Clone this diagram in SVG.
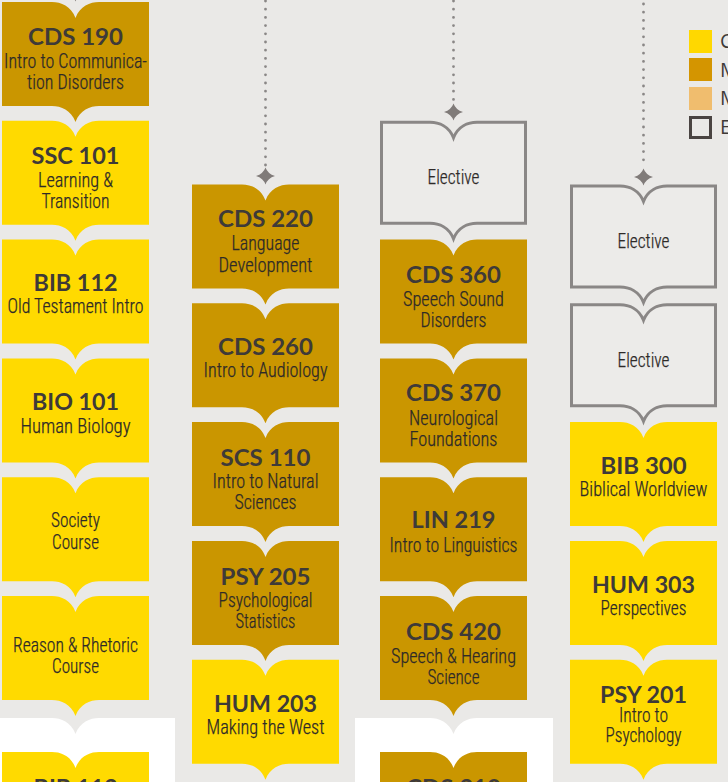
<svg xmlns="http://www.w3.org/2000/svg" xmlns:xlink="http://www.w3.org/1999/xlink" width="728" height="782" viewBox="0 0 728 782">
<style>
.bg{fill:#EAE9E7}
.yl{fill:#FFDA00}
.gd{fill:#CA9600}
.ol{fill:#ECEBE9;stroke:#8A8786;stroke-width:3}
.t{font-family:"Lato","Liberation Sans",sans-serif;font-weight:700;font-size:23px;fill:#3E3A38;text-anchor:middle}
.s{font-family:"Roboto Condensed","Roboto","Liberation Sans",sans-serif;font-weight:300;font-size:19.5px;fill:#2E2A28;stroke:#2E2A28;stroke-width:0.25;text-anchor:middle}
.dot{stroke:#8A8786;stroke-width:2.8;stroke-linecap:round;stroke-dasharray:0 8.2;fill:none}
.star{fill:#807B79}
.lg{font-family:"Open Sans","Liberation Sans",sans-serif;font-size:20px;fill:#3E3A38}
</style>
<defs>
<path id="book" d="M0 0 H50 C59 0 69 4 73.5 16 C78 4 88 0 97 0 H147 V104 H97 C88 104 78 108 73.5 120 C69 108 59 104 50 104 H0 Z"/>
<path id="bookO" d="M1.5 1.5 H50 C59 1.5 69 5.5 73.5 17 C78 5.5 88 1.5 97 1.5 H145.5 V102.5 H97 C88 102.5 78 106.5 73.5 118 C69 106.5 59 102.5 50 102.5 H1.5 Z"/>
<path id="star" d="M0 -8.5 Q2.2 -2.2 9.5 0 Q2.2 2.2 0 8.5 Q-2.2 2.2 -9.5 0 Q-2.2 -2.2 0 -8.5 Z"/>
</defs>
<rect class="bg" x="0" y="0" width="728" height="782"/>
<g id="white-areas">
<path fill="#FFFFFF" d="M0 718 H52 C61 718 71 722 75.5 734 C80 722 90 718 99 718 H175 V782 H0 Z"/>
<path fill="#FFFFFF" d="M355 718 H430 C439 718 449 722 453.5 734 C458 722 468 718 477 718 H553 V782 H355 Z"/>
</g>
<g id="connectors">
<line class="dot" x1="265.5" y1="1" x2="265.5" y2="166"/>
<use href="#star" class="star" x="265.5" y="176"/>
<line class="dot" x1="453.5" y1="1" x2="453.5" y2="102"/>
<use href="#star" class="star" x="453.5" y="112"/>
<line class="dot" x1="643.5" y1="4" x2="643.5" y2="167"/>
<use href="#star" class="star" x="643.5" y="177"/>
<use href="#star" class="star" x="75.5" y="-7"/>
</g>
<g id="legend">
<rect x="689" y="30" width="23" height="23" fill="#FFD800"/>
<rect x="689" y="58" width="23" height="23" fill="#D49500"/>
<rect x="689" y="87" width="23" height="23" fill="#F0BD6E"/>
<rect x="690.5" y="117.5" width="20" height="20" fill="none" stroke="#4A4442" stroke-width="3"/>
<text class="lg" x="720" y="48">C</text>
<text class="lg" x="720" y="77">M</text>
<text class="lg" x="720" y="105">M</text>
<text class="lg" x="720" y="134">E</text>
</g>
<!-- Column 1 -->
<g id="cds190"><use href="#book" class="gd" x="2" y="2"/>
<text class="t" x="75.5" y="45" textLength="95" lengthAdjust="spacingAndGlyphs">CDS 190</text>
<text class="s" x="75.5" y="68" textLength="143" lengthAdjust="spacingAndGlyphs">Intro to Communica-</text>
<text class="s" x="75.5" y="89" textLength="97" lengthAdjust="spacingAndGlyphs">tion Disorders</text></g>
<g id="ssc101"><use href="#book" class="yl" x="2" y="120.8"/>
<text class="t" x="75.5" y="164" textLength="88" lengthAdjust="spacingAndGlyphs">SSC 101</text>
<text class="s" x="75.5" y="187" textLength="75" lengthAdjust="spacingAndGlyphs">Learning &amp;</text>
<text class="s" x="75.5" y="208" textLength="68" lengthAdjust="spacingAndGlyphs">Transition</text></g>
<g id="bib112"><use href="#book" class="yl" x="2" y="239.6"/>
<text class="t" x="75.5" y="291" textLength="84" lengthAdjust="spacingAndGlyphs">BIB 112</text>
<text class="s" x="75.5" y="313" textLength="136" lengthAdjust="spacingAndGlyphs">Old Testament Intro</text></g>
<g id="bio101"><use href="#book" class="yl" x="2" y="358.4"/>
<text class="t" x="75.5" y="410" textLength="87" lengthAdjust="spacingAndGlyphs">BIO 101</text>
<text class="s" x="75.5" y="433" textLength="110" lengthAdjust="spacingAndGlyphs">Human Biology</text></g>
<g id="society"><use href="#book" class="yl" x="2" y="477.2"/>
<text class="s" x="75.5" y="527" textLength="49" lengthAdjust="spacingAndGlyphs">Society</text>
<text class="s" x="75.5" y="549" textLength="47" lengthAdjust="spacingAndGlyphs">Course</text></g>
<g id="reason"><use href="#book" class="yl" x="2" y="596"/>
<text class="s" x="75.5" y="652" textLength="125" lengthAdjust="spacingAndGlyphs">Reason &amp; Rhetoric</text>
<text class="s" x="75.5" y="673" textLength="47" lengthAdjust="spacingAndGlyphs">Course</text></g>
<g id="bib11x"><use href="#book" class="yl" x="2" y="752"/>
<text class="t" x="75.5" y="796" textLength="84" lengthAdjust="spacingAndGlyphs">BIB 113</text></g>
<!-- Column 2 -->
<g id="cds220"><use href="#book" class="gd" x="192" y="184.5"/>
<text class="t" x="265.5" y="227" textLength="95" lengthAdjust="spacingAndGlyphs">CDS 220</text>
<text class="s" x="265.5" y="250" textLength="68" lengthAdjust="spacingAndGlyphs">Language</text>
<text class="s" x="265.5" y="272" textLength="94" lengthAdjust="spacingAndGlyphs">Development</text></g>
<g id="cds260"><use href="#book" class="gd" x="192" y="303.3"/>
<text class="t" x="265.5" y="355" textLength="95" lengthAdjust="spacingAndGlyphs">CDS 260</text>
<text class="s" x="265.5" y="377" textLength="124" lengthAdjust="spacingAndGlyphs">Intro to Audiology</text></g>
<g id="scs110"><use href="#book" class="gd" x="192" y="422.1"/>
<text class="t" x="265.5" y="466" textLength="90" lengthAdjust="spacingAndGlyphs">SCS 110</text>
<text class="s" x="265.5" y="488" textLength="106" lengthAdjust="spacingAndGlyphs">Intro to Natural</text>
<text class="s" x="265.5" y="509" textLength="62" lengthAdjust="spacingAndGlyphs">Sciences</text></g>
<g id="psy205"><use href="#book" class="gd" x="192" y="540.9"/>
<text class="t" x="265.5" y="585" textLength="90" lengthAdjust="spacingAndGlyphs">PSY 205</text>
<text class="s" x="265.5" y="607" textLength="94" lengthAdjust="spacingAndGlyphs">Psychological</text>
<text class="s" x="265.5" y="628" textLength="60" lengthAdjust="spacingAndGlyphs">Statistics</text></g>
<g id="hum203"><use href="#book" class="yl" x="192" y="659.7"/>
<text class="t" x="265.5" y="712" textLength="103" lengthAdjust="spacingAndGlyphs">HUM 203</text>
<text class="s" x="265.5" y="734" textLength="118" lengthAdjust="spacingAndGlyphs">Making the West</text></g>
<!-- Column 3 -->
<g id="elective3"><use href="#bookO" class="ol" x="380" y="120.8"/>
<text class="s" x="453.5" y="184" textLength="52" lengthAdjust="spacingAndGlyphs">Elective</text></g>
<g id="cds360"><use href="#book" class="gd" x="380" y="239.6"/>
<text class="t" x="453.5" y="283" textLength="95" lengthAdjust="spacingAndGlyphs">CDS 360</text>
<text class="s" x="453.5" y="306" textLength="101" lengthAdjust="spacingAndGlyphs">Speech Sound</text>
<text class="s" x="453.5" y="327" textLength="66" lengthAdjust="spacingAndGlyphs">Disorders</text></g>
<g id="cds370"><use href="#book" class="gd" x="380" y="358.4"/>
<text class="t" x="453.5" y="401" textLength="95" lengthAdjust="spacingAndGlyphs">CDS 370</text>
<text class="s" x="453.5" y="425" textLength="89" lengthAdjust="spacingAndGlyphs">Neurological</text>
<text class="s" x="453.5" y="446" textLength="88" lengthAdjust="spacingAndGlyphs">Foundations</text></g>
<g id="lin219"><use href="#book" class="gd" x="380" y="477.2"/>
<text class="t" x="453.5" y="528" textLength="84" lengthAdjust="spacingAndGlyphs">LIN 219</text>
<text class="s" x="453.5" y="552" textLength="128" lengthAdjust="spacingAndGlyphs">Intro to Linguistics</text></g>
<g id="cds420"><use href="#book" class="gd" x="380" y="596"/>
<text class="t" x="453.5" y="640" textLength="95" lengthAdjust="spacingAndGlyphs">CDS 420</text>
<text class="s" x="453.5" y="663" textLength="125" lengthAdjust="spacingAndGlyphs">Speech &amp; Hearing</text>
<text class="s" x="453.5" y="684" textLength="52" lengthAdjust="spacingAndGlyphs">Science</text></g>
<g id="cds3x0"><use href="#book" class="gd" x="380" y="752"/>
<text class="t" x="453.5" y="796" textLength="95" lengthAdjust="spacingAndGlyphs">CDS 310</text></g>
<!-- Column 4 -->
<g id="elective4a"><use href="#bookO" class="ol" x="570" y="184.5"/>
<text class="s" x="643.5" y="248" textLength="52" lengthAdjust="spacingAndGlyphs">Elective</text></g>
<g id="elective4b"><use href="#bookO" class="ol" x="570" y="303.3"/>
<text class="s" x="643.5" y="367" textLength="52" lengthAdjust="spacingAndGlyphs">Elective</text></g>
<g id="bib300"><use href="#book" class="yl" x="570" y="422.1"/>
<text class="t" x="643.5" y="474" textLength="86" lengthAdjust="spacingAndGlyphs">BIB 300</text>
<text class="s" x="643.5" y="496" textLength="128" lengthAdjust="spacingAndGlyphs">Biblical Worldview</text></g>
<g id="hum303"><use href="#book" class="yl" x="570" y="540.9"/>
<text class="t" x="643.5" y="593" textLength="103" lengthAdjust="spacingAndGlyphs">HUM 303</text>
<text class="s" x="643.5" y="615" textLength="86" lengthAdjust="spacingAndGlyphs">Perspectives</text></g>
<g id="psy201"><use href="#book" class="yl" x="570" y="659.7"/>
<text class="t" x="643.5" y="703" textLength="87" lengthAdjust="spacingAndGlyphs">PSY 201</text>
<text class="s" x="643.5" y="722" textLength="49" lengthAdjust="spacingAndGlyphs">Intro to</text>
<text class="s" x="643.5" y="742" textLength="76" lengthAdjust="spacingAndGlyphs">Psychology</text></g>
</svg>
